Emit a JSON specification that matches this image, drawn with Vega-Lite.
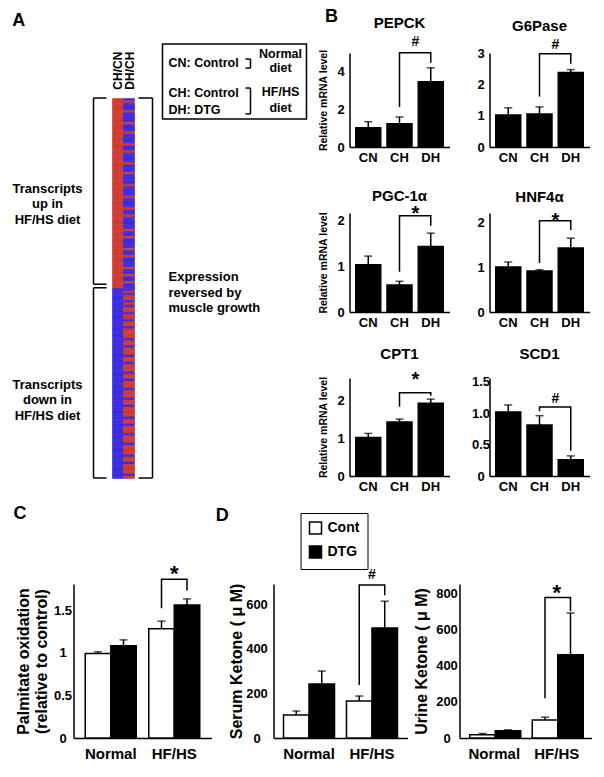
{
"$schema": "https://vega.github.io/schema/vega-lite/v6.json",
"background": "white",
"autosize": {"type": "pad"},
"padding": {"left": 11.5, "top": 7, "right": 0, "bottom": 0},
"config": {
  "font": "Liberation Sans",
  "view": {"stroke": null},
  "axis": {"labelFont": "Liberation Sans", "titleFont": "Liberation Sans", "labelFontWeight": "bold", "titleFontWeight": "bold", "labelColor": "black", "titleColor": "black", "domainColor": "black", "domainWidth": 1.5, "tickColor": "black", "grid": false, "ticks": false, "labelOverlap": false},
  "title": {"font": "Liberation Sans", "fontWeight": "bold", "color": "black"},
  "text": {"font": "Liberation Sans", "fontWeight": "bold", "color": "black"},
  "rule": {"color": "black", "strokeWidth": 1.5},
  "line": {"color": "black", "strokeWidth": 1.5},
  "tick": {"color": "black", "thickness": 1.5},
  "rect": {"binSpacing": 0},
  "bar": {"color": "black", "stroke": "black", "strokeWidth": 1.5}
},
"datasets": {
  "hm": [{"i":0,"a":"u","b":"d"},{"i":1,"a":"u","b":"u"},{"i":2,"a":"u","b":"d"},{"i":3,"a":"u","b":"d"},{"i":4,"a":"u","b":"d"},{"i":5,"a":"u","b":"u"},{"i":6,"a":"u","b":"d"},{"i":7,"a":"u","b":"d"},{"i":8,"a":"u","b":"d"},{"i":9,"a":"u","b":"d"},{"i":10,"a":"u","b":"u"},{"i":11,"a":"u","b":"d"},{"i":12,"a":"u","b":"d"},{"i":13,"a":"u","b":"d"},{"i":14,"a":"u","b":"u"},{"i":15,"a":"u","b":"d"},{"i":16,"a":"u","b":"d"},{"i":17,"a":"u","b":"d"},{"i":18,"a":"u","b":"d"},{"i":19,"a":"u","b":"u"},
{"i":20,"a":"u","b":"d"},{"i":21,"a":"u","b":"d"},{"i":22,"a":"u","b":"u"},{"i":23,"a":"u","b":"d"},{"i":24,"a":"u","b":"d"},{"i":25,"a":"u","b":"d"},{"i":26,"a":"u","b":"d"},{"i":27,"a":"u","b":"u"},{"i":28,"a":"u","b":"d"},{"i":29,"a":"u","b":"d"},{"i":30,"a":"u","b":"d"},{"i":31,"a":"u","b":"u"},{"i":32,"a":"u","b":"d"},{"i":33,"a":"u","b":"d"},{"i":34,"a":"u","b":"d"},{"i":35,"a":"u","b":"d"},{"i":36,"a":"u","b":"u"},{"i":37,"a":"u","b":"d"},{"i":38,"a":"u","b":"d"},{"i":39,"a":"u","b":"d"},
{"i":40,"a":"u","b":"d"},{"i":41,"a":"u","b":"u"},{"i":42,"a":"u","b":"d"},{"i":43,"a":"u","b":"d"},{"i":44,"a":"u","b":"d"},{"i":45,"a":"u","b":"d"},{"i":46,"a":"u","b":"u"},{"i":47,"a":"u","b":"d"},{"i":48,"a":"u","b":"d"},{"i":49,"a":"u","b":"u"},{"i":50,"a":"u","b":"d"},{"i":51,"a":"u","b":"d"},{"i":52,"a":"u","b":"d"},{"i":53,"a":"u","b":"d"},{"i":54,"a":"u","b":"d"},{"i":55,"a":"u","b":"u"},{"i":56,"a":"u","b":"d"},{"i":57,"a":"u","b":"d"},{"i":58,"a":"u","b":"u"},{"i":59,"a":"u","b":"d"},
{"i":60,"a":"u","b":"d"},{"i":61,"a":"u","b":"d"},{"i":62,"a":"u","b":"d"},{"i":63,"a":"u","b":"u"},{"i":64,"a":"u","b":"d"},{"i":65,"a":"u","b":"d"},{"i":66,"a":"u","b":"u"},{"i":67,"a":"u","b":"d"},{"i":68,"a":"u","b":"d"},{"i":69,"a":"u","b":"d"},{"i":70,"a":"u","b":"d"},{"i":71,"a":"u","b":"u"},{"i":72,"a":"u","b":"d"},{"i":73,"a":"u","b":"d"},{"i":74,"a":"u","b":"u"},{"i":75,"a":"u","b":"d"},{"i":76,"a":"u","b":"d"},{"i":77,"a":"u","b":"u"},{"i":78,"a":"u","b":"d"},{"i":79,"a":"u","b":"d"},
{"i":80,"a":"d","b":"d"},{"i":81,"a":"d","b":"u"},{"i":82,"a":"d","b":"d"},{"i":83,"a":"d","b":"u"},{"i":84,"a":"d","b":"u"},{"i":85,"a":"d","b":"d"},{"i":86,"a":"d","b":"u"},{"i":87,"a":"d","b":"d"},{"i":88,"a":"d","b":"u"},{"i":89,"a":"d","b":"u"},{"i":90,"a":"d","b":"d"},{"i":91,"a":"d","b":"u"},{"i":92,"a":"d","b":"u"},{"i":93,"a":"d","b":"d"},{"i":94,"a":"d","b":"u"},{"i":95,"a":"d","b":"u"},{"i":96,"a":"d","b":"d"},{"i":97,"a":"d","b":"u"},{"i":98,"a":"d","b":"u"},{"i":99,"a":"d","b":"u"},
{"i":100,"a":"d","b":"u"},{"i":101,"a":"d","b":"d"},{"i":102,"a":"d","b":"u"},{"i":103,"a":"d","b":"u"},{"i":104,"a":"d","b":"d"},{"i":105,"a":"d","b":"u"},{"i":106,"a":"d","b":"u"},{"i":107,"a":"d","b":"u"},{"i":108,"a":"d","b":"d"},{"i":109,"a":"d","b":"u"},{"i":110,"a":"d","b":"u"},{"i":111,"a":"d","b":"d"},{"i":112,"a":"d","b":"u"},{"i":113,"a":"d","b":"u"},{"i":114,"a":"d","b":"u"},{"i":115,"a":"d","b":"d"},{"i":116,"a":"d","b":"u"},{"i":117,"a":"d","b":"u"},{"i":118,"a":"d","b":"d"},{"i":119,"a":"d","b":"u"},
{"i":120,"a":"d","b":"u"},{"i":121,"a":"d","b":"u"},{"i":122,"a":"d","b":"d"},{"i":123,"a":"d","b":"u"},{"i":124,"a":"d","b":"u"},{"i":125,"a":"d","b":"u"},{"i":126,"a":"d","b":"d"},{"i":127,"a":"d","b":"u"},{"i":128,"a":"d","b":"u"},{"i":129,"a":"d","b":"d"},{"i":130,"a":"d","b":"u"},{"i":131,"a":"d","b":"u"},{"i":132,"a":"d","b":"u"},{"i":133,"a":"d","b":"u"},{"i":134,"a":"d","b":"d"},{"i":135,"a":"d","b":"u"},{"i":136,"a":"d","b":"u"},{"i":137,"a":"d","b":"d"},{"i":138,"a":"d","b":"u"},{"i":139,"a":"d","b":"u"},
{"i":140,"a":"d","b":"u"},{"i":141,"a":"d","b":"d"},{"i":142,"a":"d","b":"u"},{"i":143,"a":"d","b":"u"},{"i":144,"a":"d","b":"u"},{"i":145,"a":"d","b":"d"},{"i":146,"a":"d","b":"u"},{"i":147,"a":"d","b":"u"},{"i":148,"a":"d","b":"u"},{"i":149,"a":"d","b":"u"},{"i":150,"a":"d","b":"d"},{"i":151,"a":"d","b":"u"},{"i":152,"a":"d","b":"u"},{"i":153,"a":"d","b":"d"},{"i":154,"a":"d","b":"u"},{"i":155,"a":"d","b":"u"},{"i":156,"a":"d","b":"u"},{"i":157,"a":"d","b":"u"},{"i":158,"a":"d","b":"d"},{"i":159,"a":"d","b":"u"}],
  "b": [
    {"g":"PEPCK","k":"CN","v":1.02,"e":1.33},{"g":"PEPCK","k":"CH","v":1.23,"e":1.58},{"g":"PEPCK","k":"DH","v":3.44,"e":4.17},
    {"g":"G6Pase","k":"CN","v":1.02,"e":1.25},{"g":"G6Pase","k":"CH","v":1.05,"e":1.28},{"g":"G6Pase","k":"DH","v":2.38,"e":2.47},
    {"g":"PGC-1α","k":"CN","v":1.03,"e":1.22},{"g":"PGC-1α","k":"CH","v":0.59,"e":0.67},{"g":"PGC-1α","k":"DH","v":1.43,"e":1.72},
    {"g":"HNF4α","k":"CN","v":1.0,"e":1.11},{"g":"HNF4α","k":"CH","v":0.91,"e":0.94},{"g":"HNF4α","k":"DH","v":1.42,"e":1.64},
    {"g":"CPT1","k":"CN","v":1.02,"e":1.13},{"g":"CPT1","k":"CH","v":1.43,"e":1.51},{"g":"CPT1","k":"DH","v":1.93,"e":2.04},
    {"g":"SCD1","k":"CN","v":1.02,"e":1.13},{"g":"SCD1","k":"CH","v":0.81,"e":0.96},{"g":"SCD1","k":"DH","v":0.26,"e":0.32}],
  "sig": [
    {"g":"PEPCK","k":"CH","y":2.1,"o":1},{"g":"PEPCK","k":"CH","y":4.96,"o":2},{"g":"PEPCK","k":"DH","y":4.96,"o":3},{"g":"PEPCK","k":"DH","y":4.44,"o":4},
    {"g":"G6Pase","k":"CH","y":1.61,"o":1},{"g":"G6Pase","k":"CH","y":2.98,"o":2},{"g":"G6Pase","k":"DH","y":2.98,"o":3},{"g":"G6Pase","k":"DH","y":2.66,"o":4},
    {"g":"PGC-1α","k":"CH","y":0.88,"o":1},{"g":"PGC-1α","k":"CH","y":2.1,"o":2},{"g":"PGC-1α","k":"DH","y":2.1,"o":3},{"g":"PGC-1α","k":"DH","y":1.88,"o":4},
    {"g":"HNF4α","k":"CH","y":1.09,"o":1},{"g":"HNF4α","k":"CH","y":2.03,"o":2},{"g":"HNF4α","k":"DH","y":2.03,"o":3},{"g":"HNF4α","k":"DH","y":1.82,"o":4},
    {"g":"CPT1","k":"CH","y":1.84,"o":1},{"g":"CPT1","k":"CH","y":2.21,"o":2},{"g":"CPT1","k":"DH","y":2.21,"o":3},{"g":"CPT1","k":"DH","y":2.13,"o":4},
    {"g":"SCD1","k":"CH","y":1.03,"o":1},{"g":"SCD1","k":"CH","y":1.1,"o":2},{"g":"SCD1","k":"DH","y":1.1,"o":3},{"g":"SCD1","k":"DH","y":0.4,"o":4}],
  "sym": [
    {"g":"PEPCK","k":"CH","s":"#","y":5.32},{"g":"G6Pase","k":"CH","s":"#","y":3.12},{"g":"PGC-1α","k":"CH","s":"*","y":2.0},
    {"g":"HNF4α","k":"CH","s":"*","y":1.9},{"g":"CPT1","k":"CH","s":"*","y":2.39},{"g":"SCD1","k":"CH","s":"#","y":1.165}],
  "cd": [
    {"p":"C","grp":"Normal","t":"Cont","v":0.99,"e":1.01},{"p":"C","grp":"Normal","t":"DTG","v":1.08,"e":1.15},{"p":"C","grp":"HF/HS","t":"Cont","v":1.28,"e":1.37},{"p":"C","grp":"HF/HS","t":"DTG","v":1.56,"e":1.63},
    {"p":"S","grp":"Normal","t":"Cont","v":103,"e":121},{"p":"S","grp":"Normal","t":"DTG","v":242,"e":300},{"p":"S","grp":"HF/HS","t":"Cont","v":166,"e":188},{"p":"S","grp":"HF/HS","t":"DTG","v":493,"e":613},
    {"p":"U","grp":"Normal","t":"Cont","v":18,"e":25},{"p":"U","grp":"Normal","t":"DTG","v":40,"e":45},{"p":"U","grp":"HF/HS","t":"Cont","v":100,"e":115},{"p":"U","grp":"HF/HS","t":"DTG","v":460,"e":690}],
  "sig2": [
    {"p":"C","grp":"HF/HS","t":"Cont","y":1.52,"o":1},{"p":"C","grp":"HF/HS","t":"Cont","y":1.86,"o":2},{"p":"C","grp":"HF/HS","t":"DTG","y":1.86,"o":3},{"p":"C","grp":"HF/HS","t":"DTG","y":1.73,"o":4},
    {"p":"S","grp":"HF/HS","t":"Cont","y":237,"o":1},{"p":"S","grp":"HF/HS","t":"Cont","y":685,"o":2},{"p":"S","grp":"HF/HS","t":"DTG","y":685,"o":3},{"p":"S","grp":"HF/HS","t":"DTG","y":640,"o":4},
    {"p":"U","grp":"HF/HS","t":"Cont","y":219,"o":1},{"p":"U","grp":"HF/HS","t":"Cont","y":776,"o":2},{"p":"U","grp":"HF/HS","t":"DTG","y":776,"o":3},{"p":"U","grp":"HF/HS","t":"DTG","y":700,"o":4}],
  "sym2": [
    {"p":"C","grp":"HF/HS","s":"*","y":1.835},{"p":"S","grp":"HF/HS","s":"#","y":712},{"p":"U","grp":"HF/HS","s":"*","y":764}]
},
"bounds": "full",
"spacing": 12,
"vconcat": [
 {"hconcat": [
  {"width": 233, "height": 430,
   "layer": [
    {"data": {"name": "hm"}, "mark": {"type": "rect", "strokeWidth": 0.6}, "encoding": {
      "x": {"datum": 112, "type": "quantitative", "scale": {"domain": [73, 306], "nice": false, "zero": false}, "axis": null},
      "x2": {"datum": 123},
      "y": {"field": "i", "type": "quantitative", "bin": {"step": 1, "extent": [0, 160], "nice": false}, "scale": {"domain": [-18.95, 162.1], "reverse": true, "nice": false, "zero": false}, "axis": null},
      "color": {"field": "a", "type": "nominal", "scale": {"domain": ["u", "d"], "range": ["#cf3a33", "#3b2be0"]}, "legend": null},
      "stroke": {"field": "a", "type": "nominal", "scale": {"domain": ["u", "d"], "range": ["#cf3a33", "#3b2be0"]}, "legend": null}}},
    {"data": {"name": "hm"}, "mark": {"type": "rect", "strokeWidth": 0.6}, "encoding": {
      "x": {"datum": 123, "type": "quantitative", "axis": null},
      "x2": {"datum": 134},
      "y": {"field": "i", "type": "quantitative", "bin": {"step": 1, "extent": [0, 160], "nice": false}, "axis": null},
      "color": {"field": "b", "type": "nominal", "legend": null},
      "stroke": {"field": "b", "type": "nominal", "legend": null}}},
    {"data": {"values": [{}]}, "layer": [
      {"mark": {"type": "text", "text": "A", "fontSize": 18}, "encoding": {"x": {"datum": 18.3, "axis": null}, "y": {"datum": -32.6, "axis": null}}},
      {"mark": {"type": "text", "text": "B", "fontSize": 18}, "encoding": {"x": {"datum": 331, "axis": null}, "y": {"datum": -34.3, "axis": null}}},
      {"mark": {"type": "text", "text": "CH/CN", "fontSize": 12, "angle": 270, "align": "left"}, "encoding": {"x": {"datum": 117.5, "axis": null}, "y": {"datum": -3.5, "axis": null}}},
      {"mark": {"type": "text", "text": "DH/CH", "fontSize": 12, "angle": 270, "align": "left"}, "encoding": {"x": {"datum": 129.5, "axis": null}, "y": {"datum": -3.5, "axis": null}}},
      {"mark": {"type": "rect", "fillOpacity": 0, "stroke": "black", "strokeWidth": 1.5}, "encoding": {"x": {"datum": 162, "axis": null}, "x2": {"datum": 306}, "y": {"datum": -22.7, "axis": null}, "y2": {"datum": 8.84}}},
      {"mark": {"type": "text", "text": "CN: Control", "fontSize": 12.5, "align": "left"}, "encoding": {"x": {"datum": 168, "axis": null}, "y": {"datum": -14.7, "axis": null}}},
      {"mark": {"type": "text", "text": "CH: Control", "fontSize": 12.5, "align": "left"}, "encoding": {"x": {"datum": 168, "axis": null}, "y": {"datum": -2.1, "axis": null}}},
      {"mark": {"type": "text", "text": "DH: DTG", "fontSize": 12.5, "align": "left"}, "encoding": {"x": {"datum": 168, "axis": null}, "y": {"datum": 5.05, "axis": null}}},
      {"mark": {"type": "text", "text": ["Normal", "diet"], "fontSize": 12.5, "lineHeight": 14}, "encoding": {"x": {"datum": 280, "axis": null}, "y": {"datum": -18.5, "axis": null}}},
      {"mark": {"type": "text", "text": ["HF/HS", "diet"], "fontSize": 12.5, "lineHeight": 16}, "encoding": {"x": {"datum": 280, "axis": null}, "y": {"datum": -2.5, "axis": null}}},
      {"mark": "rule", "encoding": {"x": {"datum": 250, "axis": null}, "y": {"datum": -16.4, "axis": null}, "y2": {"datum": -12.6}}},
      {"mark": "rule", "encoding": {"x": {"datum": 245, "axis": null}, "x2": {"datum": 250}, "y": {"datum": -16.4, "axis": null}}},
      {"mark": "rule", "encoding": {"x": {"datum": 245, "axis": null}, "x2": {"datum": 250}, "y": {"datum": -12.6, "axis": null}}},
      {"mark": "rule", "encoding": {"x": {"datum": 250, "axis": null}, "y": {"datum": -4.2, "axis": null}, "y2": {"datum": 6.7}}},
      {"mark": "rule", "encoding": {"x": {"datum": 245, "axis": null}, "x2": {"datum": 250}, "y": {"datum": -4.2, "axis": null}}},
      {"mark": "rule", "encoding": {"x": {"datum": 245, "axis": null}, "x2": {"datum": 250}, "y": {"datum": 6.7, "axis": null}}},
      {"mark": "rule", "encoding": {"x": {"datum": 93, "axis": null}, "y": {"datum": 0, "axis": null}, "y2": {"datum": 78.4}}},
      {"mark": "rule", "encoding": {"x": {"datum": 93, "axis": null}, "x2": {"datum": 106}, "y": {"datum": 0, "axis": null}}},
      {"mark": "rule", "encoding": {"x": {"datum": 93, "axis": null}, "x2": {"datum": 106}, "y": {"datum": 78.4, "axis": null}}},
      {"mark": "rule", "encoding": {"x": {"datum": 93, "axis": null}, "y": {"datum": 79.9, "axis": null}, "y2": {"datum": 160}}},
      {"mark": "rule", "encoding": {"x": {"datum": 93, "axis": null}, "x2": {"datum": 106}, "y": {"datum": 79.9, "axis": null}}},
      {"mark": "rule", "encoding": {"x": {"datum": 93, "axis": null}, "x2": {"datum": 106}, "y": {"datum": 160, "axis": null}}},
      {"mark": "rule", "encoding": {"x": {"datum": 152, "axis": null}, "y": {"datum": 0, "axis": null}, "y2": {"datum": 160}}},
      {"mark": "rule", "encoding": {"x": {"datum": 138, "axis": null}, "x2": {"datum": 152}, "y": {"datum": 0, "axis": null}}},
      {"mark": "rule", "encoding": {"x": {"datum": 138, "axis": null}, "x2": {"datum": 152}, "y": {"datum": 160, "axis": null}}},
      {"mark": {"type": "text", "text": ["Transcripts", "up in", "HF/HS diet"], "fontSize": 13, "lineHeight": 15.5}, "encoding": {"x": {"datum": 47, "axis": null}, "y": {"datum": 38.3, "axis": null}}},
      {"mark": {"type": "text", "text": ["Transcripts", "down in", "HF/HS diet"], "fontSize": 13, "lineHeight": 15.5}, "encoding": {"x": {"datum": 47, "axis": null}, "y": {"datum": 120.8, "axis": null}}},
      {"mark": {"type": "text", "text": ["Expression", "reversed by", "muscle growth"], "fontSize": 13, "lineHeight": 15.5, "align": "left"}, "encoding": {"x": {"datum": 168, "axis": null}, "y": {"datum": 75.4, "axis": null}}}
    ]}
   ]},
  {"concat": [
    {"width": 100, "height": 94, "title": {"text": "PEPCK", "fontSize": 15, "offset": 4, "frame": "group"},
     "layer": [
      {"data": {"name": "b"}, "transform": [{"filter": "datum.g === 'PEPCK'"}],
       "encoding": {"x": {"field": "k", "type": "nominal", "sort": null, "scale": {"domain": ["CN", "CH", "DH"], "paddingInner": 0.2, "paddingOuter": 0.2}, "axis": {"title": null, "labelAngle": 0, "labelFontSize": 13, "labelPadding": 4}}},
       "layer": [
        {"mark": "bar", "encoding": {"y": {"field": "v", "type": "quantitative", "scale": {"domain": [0, 4.95], "nice": false}, "axis": {"values": [0, 2, 4], "format": "d", "tickCount": 20, "labelOverlap": false, "title": "Relative mRNA level", "titleFontSize": 10.5, "titlePadding": 8, "labelFontSize": 13, "labelAlign": "center", "labelPadding": 9}}}},
        {"mark": "rule", "encoding": {"y": {"field": "v", "type": "quantitative"}, "y2": {"field": "e"}}},
        {"mark": {"type": "tick", "size": 8}, "encoding": {"y": {"field": "e", "type": "quantitative"}}}
       ]},
      {"data": {"name": "sig"}, "transform": [{"filter": "datum.g === 'PEPCK'"}], "mark": "line", "encoding": {"x": {"field": "k", "type": "nominal"}, "y": {"field": "y", "type": "quantitative"}, "order": {"field": "o", "type": "quantitative"}}},
      {"data": {"name": "sym"}, "transform": [{"filter": "datum.g === 'PEPCK'"}], "mark": {"type": "text", "dx": 16, "baseline": "alphabetic", "fontSize": 14}, "encoding": {"x": {"field": "k", "type": "nominal"}, "y": {"field": "y", "type": "quantitative"}, "text": {"field": "s"}}}
     ]},
    {"width": 100, "height": 94, "title": {"text": "G6Pase", "fontSize": 15, "offset": 4, "frame": "group"},
     "layer": [
      {"data": {"name": "b"}, "transform": [{"filter": "datum.g === 'G6Pase'"}],
       "encoding": {"x": {"field": "k", "type": "nominal", "sort": null, "scale": {"domain": ["CN", "CH", "DH"], "paddingInner": 0.2, "paddingOuter": 0.2}, "axis": {"title": null, "labelAngle": 0, "labelFontSize": 13, "labelPadding": 4}}},
       "layer": [
        {"mark": "bar", "encoding": {"y": {"field": "v", "type": "quantitative", "scale": {"domain": [0, 3.0], "nice": false}, "axis": {"values": [0, 1, 2, 3], "format": "d", "tickCount": 20, "labelOverlap": false, "title": null, "labelFontSize": 13, "labelAlign": "center", "labelPadding": 9}}}},
        {"mark": "rule", "encoding": {"y": {"field": "v", "type": "quantitative"}, "y2": {"field": "e"}}},
        {"mark": {"type": "tick", "size": 8}, "encoding": {"y": {"field": "e", "type": "quantitative"}}}
       ]},
      {"data": {"name": "sig"}, "transform": [{"filter": "datum.g === 'G6Pase'"}], "mark": "line", "encoding": {"x": {"field": "k", "type": "nominal"}, "y": {"field": "y", "type": "quantitative"}, "order": {"field": "o", "type": "quantitative"}}},
      {"data": {"name": "sym"}, "transform": [{"filter": "datum.g === 'G6Pase'"}], "mark": {"type": "text", "dx": 16, "baseline": "alphabetic", "fontSize": 14}, "encoding": {"x": {"field": "k", "type": "nominal"}, "y": {"field": "y", "type": "quantitative"}, "text": {"field": "s"}}}
     ]},
    {"width": 100, "height": 99, "title": {"text": "PGC-1α", "fontSize": 15, "offset": 0, "frame": "group"},
     "layer": [
      {"data": {"name": "b"}, "transform": [{"filter": "datum.g === 'PGC-1α'"}],
       "encoding": {"x": {"field": "k", "type": "nominal", "sort": null, "scale": {"domain": ["CN", "CH", "DH"], "paddingInner": 0.2, "paddingOuter": 0.2}, "axis": {"title": null, "labelAngle": 0, "labelFontSize": 13, "labelPadding": 4}}},
       "layer": [
        {"mark": "bar", "encoding": {"y": {"field": "v", "type": "quantitative", "scale": {"domain": [0, 2.16], "nice": false}, "axis": {"values": [0, 1, 2], "format": "d", "tickCount": 20, "labelOverlap": false, "title": "Relative mRNA level", "titleFontSize": 10.5, "titlePadding": 8, "labelFontSize": 13, "labelAlign": "center", "labelPadding": 9}}}},
        {"mark": "rule", "encoding": {"y": {"field": "v", "type": "quantitative"}, "y2": {"field": "e"}}},
        {"mark": {"type": "tick", "size": 8}, "encoding": {"y": {"field": "e", "type": "quantitative"}}}
       ]},
      {"data": {"name": "sig"}, "transform": [{"filter": "datum.g === 'PGC-1α'"}], "mark": "line", "encoding": {"x": {"field": "k", "type": "nominal"}, "y": {"field": "y", "type": "quantitative"}, "order": {"field": "o", "type": "quantitative"}}},
      {"data": {"name": "sym"}, "transform": [{"filter": "datum.g === 'PGC-1α'"}], "mark": {"type": "text", "dx": 16, "baseline": "alphabetic", "fontSize": 20}, "encoding": {"x": {"field": "k", "type": "nominal"}, "y": {"field": "y", "type": "quantitative"}, "text": {"field": "s"}}}
     ]},
    {"width": 100, "height": 99, "title": {"text": "HNF4α", "fontSize": 15, "offset": 6, "frame": "group"},
     "layer": [
      {"data": {"name": "b"}, "transform": [{"filter": "datum.g === 'HNF4α'"}],
       "encoding": {"x": {"field": "k", "type": "nominal", "sort": null, "scale": {"domain": ["CN", "CH", "DH"], "paddingInner": 0.2, "paddingOuter": 0.2}, "axis": {"title": null, "labelAngle": 0, "labelFontSize": 13, "labelPadding": 4}}},
       "layer": [
        {"mark": "bar", "encoding": {"y": {"field": "v", "type": "quantitative", "scale": {"domain": [0, 2.2], "nice": false}, "axis": {"values": [0, 1, 2], "format": "d", "tickCount": 20, "labelOverlap": false, "title": null, "labelFontSize": 13, "labelAlign": "center", "labelPadding": 9}}}},
        {"mark": "rule", "encoding": {"y": {"field": "v", "type": "quantitative"}, "y2": {"field": "e"}}},
        {"mark": {"type": "tick", "size": 8}, "encoding": {"y": {"field": "e", "type": "quantitative"}}}
       ]},
      {"data": {"name": "sig"}, "transform": [{"filter": "datum.g === 'HNF4α'"}], "mark": "line", "encoding": {"x": {"field": "k", "type": "nominal"}, "y": {"field": "y", "type": "quantitative"}, "order": {"field": "o", "type": "quantitative"}}},
      {"data": {"name": "sym"}, "transform": [{"filter": "datum.g === 'HNF4α'"}], "mark": {"type": "text", "dx": 16, "baseline": "alphabetic", "fontSize": 20}, "encoding": {"x": {"field": "k", "type": "nominal"}, "y": {"field": "y", "type": "quantitative"}, "text": {"field": "s"}}}
     ]},
    {"width": 100, "height": 98, "title": {"text": "CPT1", "fontSize": 15, "offset": 8, "frame": "group"},
     "layer": [
      {"data": {"name": "b"}, "transform": [{"filter": "datum.g === 'CPT1'"}],
       "encoding": {"x": {"field": "k", "type": "nominal", "sort": null, "scale": {"domain": ["CN", "CH", "DH"], "paddingInner": 0.2, "paddingOuter": 0.2}, "axis": {"title": null, "labelAngle": 0, "labelFontSize": 13, "labelPadding": 4}}},
       "layer": [
        {"mark": "bar", "encoding": {"y": {"field": "v", "type": "quantitative", "scale": {"domain": [0, 2.6], "nice": false}, "axis": {"values": [0, 1, 2], "format": "d", "tickCount": 20, "labelOverlap": false, "title": "Relative mRNA level", "titleFontSize": 10.5, "titlePadding": 8, "labelFontSize": 13, "labelAlign": "center", "labelPadding": 9}}}},
        {"mark": "rule", "encoding": {"y": {"field": "v", "type": "quantitative"}, "y2": {"field": "e"}}},
        {"mark": {"type": "tick", "size": 8}, "encoding": {"y": {"field": "e", "type": "quantitative"}}}
       ]},
      {"data": {"name": "sig"}, "transform": [{"filter": "datum.g === 'CPT1'"}], "mark": "line", "encoding": {"x": {"field": "k", "type": "nominal"}, "y": {"field": "y", "type": "quantitative"}, "order": {"field": "o", "type": "quantitative"}}},
      {"data": {"name": "sym"}, "transform": [{"filter": "datum.g === 'CPT1'"}], "mark": {"type": "text", "dx": 16, "baseline": "alphabetic", "fontSize": 20}, "encoding": {"x": {"field": "k", "type": "nominal"}, "y": {"field": "y", "type": "quantitative"}, "text": {"field": "s"}}}
     ]},
    {"width": 100, "height": 98, "title": {"text": "SCD1", "fontSize": 15, "offset": 14, "frame": "group"},
     "layer": [
      {"data": {"name": "b"}, "transform": [{"filter": "datum.g === 'SCD1'"}],
       "encoding": {"x": {"field": "k", "type": "nominal", "sort": null, "scale": {"domain": ["CN", "CH", "DH"], "paddingInner": 0.2, "paddingOuter": 0.2}, "axis": {"title": null, "labelAngle": 0, "labelFontSize": 13, "labelPadding": 4}}},
       "layer": [
        {"mark": "bar", "encoding": {"y": {"field": "v", "type": "quantitative", "scale": {"domain": [0, 1.56], "nice": false}, "axis": {"values": [0, 0.5, 1, 1.5], "tickCount": 20, "labelOverlap": false, "format": ".1f", "labelExpr": "datum.value == 0 ? '0' : datum.label", "title": null, "labelFontSize": 13, "labelAlign": "center", "labelPadding": 9}}}},
        {"mark": "rule", "encoding": {"y": {"field": "v", "type": "quantitative"}, "y2": {"field": "e"}}},
        {"mark": {"type": "tick", "size": 8}, "encoding": {"y": {"field": "e", "type": "quantitative"}}}
       ]},
      {"data": {"name": "sig"}, "transform": [{"filter": "datum.g === 'SCD1'"}], "mark": "line", "encoding": {"x": {"field": "k", "type": "nominal"}, "y": {"field": "y", "type": "quantitative"}, "order": {"field": "o", "type": "quantitative"}}},
      {"data": {"name": "sym"}, "transform": [{"filter": "datum.g === 'SCD1'"}], "mark": {"type": "text", "dx": 16, "baseline": "alphabetic", "fontSize": 14}, "encoding": {"x": {"field": "k", "type": "nominal"}, "y": {"field": "y", "type": "quantitative"}, "text": {"field": "s"}}}
     ]}
   ],
   "columns": 2, "align": "each", "bounds": "flush", "spacing": {"row": 66, "column": 40}}
 ], "spacing": 43, "bounds": "flush"},
 {"hconcat": [
  {"width": 138, "height": 154, "title": {"text": "C", "anchor": "start", "frame": "bounds", "fontSize": 18, "offset": 40, "dx": -2},
   "layer": [
    {"data": {"name": "cd"}, "transform": [{"filter": "datum.p === 'C'"}],
     "encoding": {
       "x": {"field": "grp", "type": "nominal", "sort": null, "scale": {"domain": ["Normal", "HF/HS"], "paddingInner": 0.197, "paddingOuter": 0.185}, "axis": {"title": null, "labelAngle": 0, "labelFontSize": 15, "labelPadding": 8}},
       "xOffset": {"field": "t", "type": "nominal", "sort": null, "scale": {"domain": ["Cont", "DTG"], "paddingInner": 0, "paddingOuter": 0}}},
     "layer": [
      {"mark": "bar", "encoding": {"y": {"field": "v", "type": "quantitative", "scale": {"domain": [0, 1.805], "nice": false}, "axis": {"values": [0, 0.5, 1, 1.5], "tickCount": 20, "labelOverlap": false, "format": "~g", "title": ["Palmitate oxidation", "(relative to control)"], "titleFontSize": 16, "titleLineHeight": 18, "titlePadding": 4, "labelFontSize": 13, "labelAlign": "center", "labelPadding": 11}},
        "fill": {"field": "t", "type": "nominal", "scale": {"domain": ["Cont", "DTG"], "range": ["white", "black"]}, "legend": null}}},
      {"mark": "rule", "encoding": {"y": {"field": "v", "type": "quantitative"}, "y2": {"field": "e"}}},
      {"mark": {"type": "tick", "size": 8}, "encoding": {"y": {"field": "e", "type": "quantitative"}}}
     ]},
    {"data": {"name": "sig2"}, "transform": [{"filter": "datum.p === 'C'"}], "mark": "line", "encoding": {"x": {"field": "grp", "type": "nominal"}, "xOffset": {"field": "t", "type": "nominal"}, "y": {"field": "y", "type": "quantitative"}, "order": {"field": "o", "type": "quantitative"}}},
    {"data": {"name": "sym2"}, "transform": [{"filter": "datum.p === 'C'"}], "mark": {"type": "text", "baseline": "alphabetic", "fontSize": 22}, "encoding": {"x": {"field": "grp", "type": "nominal"}, "y": {"field": "y", "type": "quantitative"}, "text": {"field": "s"}}}
   ]},
  {"hconcat": [
    {"width": 134, "height": 154, "title": {"text": "D", "anchor": "start", "frame": "bounds", "fontSize": 18, "offset": 43, "dx": -13},
     "layer": [
      {"data": {"name": "cd"}, "transform": [{"filter": "datum.p === 'S'"}],
       "encoding": {
         "x": {"field": "grp", "type": "nominal", "sort": null, "scale": {"domain": ["Normal", "HF/HS"], "paddingInner": 0.19, "paddingOuter": 0.159}, "axis": {"title": null, "labelAngle": 0, "labelFontSize": 15, "labelPadding": 8}},
         "xOffset": {"field": "t", "type": "nominal", "sort": null, "scale": {"domain": ["Cont", "DTG"], "paddingInner": 0, "paddingOuter": 0}}},
       "layer": [
        {"mark": "bar", "encoding": {"y": {"field": "v", "type": "quantitative", "scale": {"domain": [0, 690], "nice": false}, "axis": {"values": [0, 200, 400, 600], "format": "d", "tickCount": 20, "labelOverlap": false, "title": "Serum Ketone ( μ M)", "titleFontSize": 16, "titlePadding": 1, "labelFontSize": 13, "labelAlign": "center", "labelPadding": 17}},
          "fill": {"field": "t", "type": "nominal", "scale": {"domain": ["Cont", "DTG"], "range": ["white", "black"]}, "legend": null}}},
        {"mark": "rule", "encoding": {"y": {"field": "v", "type": "quantitative"}, "y2": {"field": "e"}}},
        {"mark": {"type": "tick", "size": 8}, "encoding": {"y": {"field": "e", "type": "quantitative"}}}
       ]},
      {"data": {"name": "sig2"}, "transform": [{"filter": "datum.p === 'S'"}], "mark": "line", "encoding": {"x": {"field": "grp", "type": "nominal"}, "xOffset": {"field": "t", "type": "nominal"}, "y": {"field": "y", "type": "quantitative"}, "order": {"field": "o", "type": "quantitative"}}},
      {"data": {"name": "sym2"}, "transform": [{"filter": "datum.p === 'S'"}], "mark": {"type": "text", "baseline": "alphabetic", "fontSize": 14}, "encoding": {"x": {"field": "grp", "type": "nominal"}, "y": {"field": "y", "type": "quantitative"}, "text": {"field": "s"}}}
     ]},
    {"width": 132, "height": 154,
     "layer": [
      {"data": {"name": "cd"}, "transform": [{"filter": "datum.p === 'U'"}],
       "encoding": {
         "x": {"field": "grp", "type": "nominal", "sort": null, "scale": {"domain": ["Normal", "HF/HS"], "paddingInner": 0.216, "paddingOuter": 0.164}, "axis": {"title": null, "labelAngle": 0, "labelFontSize": 15, "labelPadding": 8}},
         "xOffset": {"field": "t", "type": "nominal", "sort": null, "scale": {"domain": ["Cont", "DTG"], "paddingInner": 0, "paddingOuter": 0}}},
       "layer": [
        {"mark": "bar", "encoding": {"y": {"field": "v", "type": "quantitative", "scale": {"domain": [0, 850], "nice": false}, "axis": {"values": [0, 200, 400, 600, 800], "format": "d", "tickCount": 20, "labelOverlap": false, "title": "Urine Ketone ( μ M)", "titleFontSize": 16, "titlePadding": 6, "labelFontSize": 13, "labelAlign": "center", "labelPadding": 13}},
          "fill": {"field": "t", "type": "nominal", "scale": {"domain": ["Cont", "DTG"], "range": ["white", "black"]},
            "legend": {"orient": "none", "legendX": -159, "legendY": -71, "title": null, "strokeColor": "black", "padding": 8, "symbolType": "square", "symbolSize": 144, "symbolStrokeColor": "black", "symbolStrokeWidth": 1.5, "labelFontSize": 14, "labelFontWeight": "bold", "labelFont": "Liberation Sans", "labelColor": "black", "rowPadding": 6, "labelOffset": 5}}}},
        {"mark": "rule", "encoding": {"y": {"field": "v", "type": "quantitative"}, "y2": {"field": "e"}}},
        {"mark": {"type": "tick", "size": 8}, "encoding": {"y": {"field": "e", "type": "quantitative"}}}
       ]},
      {"data": {"name": "sig2"}, "transform": [{"filter": "datum.p === 'U'"}], "mark": "line", "encoding": {"x": {"field": "grp", "type": "nominal"}, "xOffset": {"field": "t", "type": "nominal"}, "y": {"field": "y", "type": "quantitative"}, "order": {"field": "o", "type": "quantitative"}}},
      {"data": {"name": "sym2"}, "transform": [{"filter": "datum.p === 'U'"}], "mark": {"type": "text", "baseline": "alphabetic", "fontSize": 22}, "encoding": {"x": {"field": "grp", "type": "nominal"}, "y": {"field": "y", "type": "quantitative"}, "text": {"field": "s"}}}
     ]}
  ], "spacing": 52, "bounds": "flush", "resolve": {"scale": {"fill": "independent"}, "legend": {"fill": "independent"}}}
 ], "spacing": 62, "bounds": "flush", "resolve": {"scale": {"fill": "independent"}, "legend": {"fill": "independent"}}}
]
}
